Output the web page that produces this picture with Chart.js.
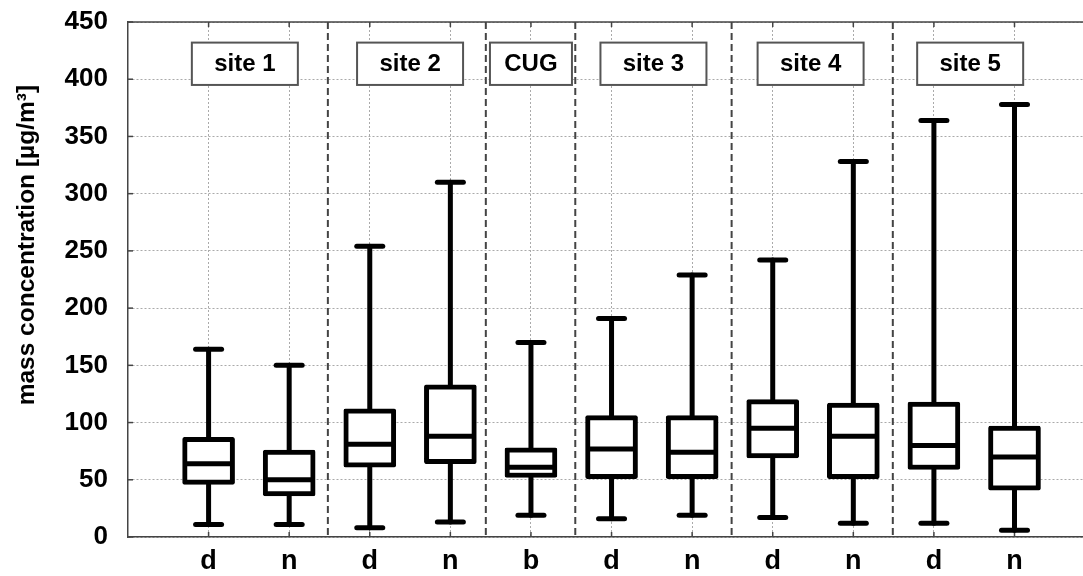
<!DOCTYPE html>
<html>
<head>
<meta charset="utf-8">
<script src="https://cdn.jsdelivr.net/npm/chart.js@4"></script>
<style>
  body { margin: 0; background: #fff; }
  #wrap { width: 1083px; height: 576px; }
</style>
</head>
<body>
<div id="wrap"><canvas id="boxChart"></canvas></div>
<script>
// data
const categories = ['d', 'n', 'd', 'n', 'b', 'd', 'n', 'd', 'n', 'd', 'n'];
const whiskerLow = [11, 11, 8, 13, 19, 16, 19, 17, 12, 12, 6];
const quartile1 = [46, 36, 61, 64, 52, 51, 51, 69, 51, 59, 41];
const medians = [64, 50, 81, 88, 61, 77, 74, 95, 88, 80, 70];
const quartile3 = [87, 76, 112, 133, 78, 106, 106, 120, 117, 118, 97];
const whiskerHigh = [164, 150, 254, 310, 170, 191, 229, 242, 328, 364, 378];
const groupNames = ['site 1', 'site 2', 'CUG', 'site 3', 'site 4', 'site 5'];
const yTicks = [0, 50, 100, 150, 200, 250, 300, 350, 400, 450];
const yTitle = 'mass concentration [µg/m³]';

// layout (x in category units, category i sits at i+1)
const groupCenters = [1.45, 3.5, 5.0, 6.52, 8.47, 10.45];
const groupWidths = [106, 106, 82, 106, 106, 106];
const separators = [2.48, 4.44, 5.55, 7.49, 9.49];

const FONT = "'Liberation Sans', Arial, sans-serif";
const ctx = document.getElementById('boxChart');

// whiskers, medians, separators, site labels, axis title
const boxExtras = {
  id: 'boxExtras',
  beforeDatasetsDraw(chart) {
    const c = chart.ctx, x = chart.scales.x, y = chart.scales.y, a = chart.chartArea;
    c.save();
    // group separators
    c.strokeStyle = '#444';
    c.lineWidth = 2;
    c.setLineDash([7, 4]);
    separators.forEach(s => {
      const px = x.getPixelForValue(s);
      c.beginPath(); c.moveTo(px, a.top); c.lineTo(px, a.bottom); c.stroke();
    });
    c.setLineDash([]);
    // top frame line
    c.strokeStyle = '#444';
    c.lineWidth = 1.5;
    c.beginPath(); c.moveTo(a.left, a.top); c.lineTo(a.right, a.top); c.stroke();
    // small inner ticks
    categories.forEach((_, i) => {
      const px = x.getPixelForValue(i + 1);
      c.beginPath(); c.moveTo(px, a.bottom); c.lineTo(px, a.bottom - 5); c.stroke();
      c.beginPath(); c.moveTo(px, a.top); c.lineTo(px, a.top + 5); c.stroke();
    });
    yTicks.forEach(v => {
      const py = y.getPixelForValue(v);
      c.beginPath(); c.moveTo(a.left, py); c.lineTo(a.left + 5, py); c.stroke();
    });
    // whiskers
    c.strokeStyle = '#000';
    c.lineWidth = 5;
    c.lineCap = 'round';
    categories.forEach((_, i) => {
      const px = x.getPixelForValue(i + 1);
      c.beginPath();
      c.moveTo(px, y.getPixelForValue(quartile3[i]));
      c.lineTo(px, y.getPixelForValue(whiskerHigh[i]));
      c.moveTo(px, y.getPixelForValue(quartile1[i]));
      c.lineTo(px, y.getPixelForValue(whiskerLow[i]));
      c.stroke();
      [whiskerHigh[i], whiskerLow[i]].forEach(v => {
        const py = y.getPixelForValue(v);
        c.beginPath(); c.moveTo(px - 13, py); c.lineTo(px + 13, py); c.stroke();
      });
    });
    c.restore();
  },
  afterDatasetsDraw(chart) {
    const c = chart.ctx, x = chart.scales.x, y = chart.scales.y;
    c.save();
    // medians
    c.strokeStyle = '#000';
    c.lineWidth = 5;
    categories.forEach((_, i) => {
      const px = x.getPixelForValue(i + 1);
      const py = y.getPixelForValue(medians[i]);
      c.beginPath(); c.moveTo(px - 24, py); c.lineTo(px + 24, py); c.stroke();
    });
    // site labels
    const top = y.getPixelForValue(432), bottom = y.getPixelForValue(395);
    c.font = 'bold 24px ' + FONT;
    c.textAlign = 'center';
    c.textBaseline = 'middle';
    groupNames.forEach((name, g) => {
      const cx = x.getPixelForValue(groupCenters[g]);
      const w = groupWidths[g];
      c.fillStyle = '#fff';
      c.fillRect(cx - w / 2, top, w, bottom - top);
      c.strokeStyle = '#555';
      c.lineWidth = 2;
      c.strokeRect(cx - w / 2, top, w, bottom - top);
      c.fillStyle = '#000';
      c.fillText(name, cx, (top + bottom) / 2 + 1);
    });
    // y axis title, sits a bit above the axis middle
    c.translate(27, y.getPixelForValue(255));
    c.rotate(-Math.PI / 2);
    c.font = 'bold 24.5px ' + FONT;
    c.fillText(yTitle, 0, 0);
    c.restore();
  }
};

new Chart(ctx, {
  type: 'bar',
  data: {
    datasets: [{
      label: 'box',
      data: categories.map((_, i) => ({ x: i + 1, y: [quartile1[i], quartile3[i]] })),
      backgroundColor: '#fff',
      borderColor: '#000',
      borderWidth: 5,
      borderSkipped: false,
      borderRadius: 2,
      barThickness: 52
    }]
  },
  options: {
    responsive: true,
    maintainAspectRatio: false,
    animation: false,
    layout: { padding: { top: 22, right: 0, left: 0, bottom: 0 } },
    plugins: { legend: { display: false }, tooltip: { enabled: false } },
    scales: {
      x: {
        type: 'linear',
        offset: false,
        min: 0,
        max: 11.85,
        afterBuildTicks: s => { s.ticks = categories.map((_, i) => ({ value: i + 1 })); },
        afterFit: s => { s.height = 39; s.paddingLeft = 0; s.paddingRight = 0; },
        ticks: {
          autoSkip: false,
          maxRotation: 0,
          padding: 8,
          color: '#000',
          font: { family: FONT, size: 27, weight: 'bold' },
          callback: v => categories[v - 1] || ''
        },
        grid: { color: '#aaa', lineWidth: 1, drawTicks: false, offset: false },
        border: { color: '#444', width: 1.5, dash: [2, 2] }
      },
      y: {
        min: 0,
        max: 450,
        afterBuildTicks: s => { s.ticks = yTicks.map(v => ({ value: v })); },
        afterFit: s => { s.width = 128; s.paddingTop = 0; s.paddingBottom = 0; },
        ticks: {
          padding: 20,
          color: '#000',
          font: { family: FONT, size: 26, weight: 'bold' }
        },
        grid: { color: '#aaa', lineWidth: 1, drawTicks: false },
        border: { color: '#444', width: 1.5, dash: [2, 2] },
        title: { display: false }
      }
    }
  },
  plugins: [boxExtras]
});
</script>
</body>
</html>
